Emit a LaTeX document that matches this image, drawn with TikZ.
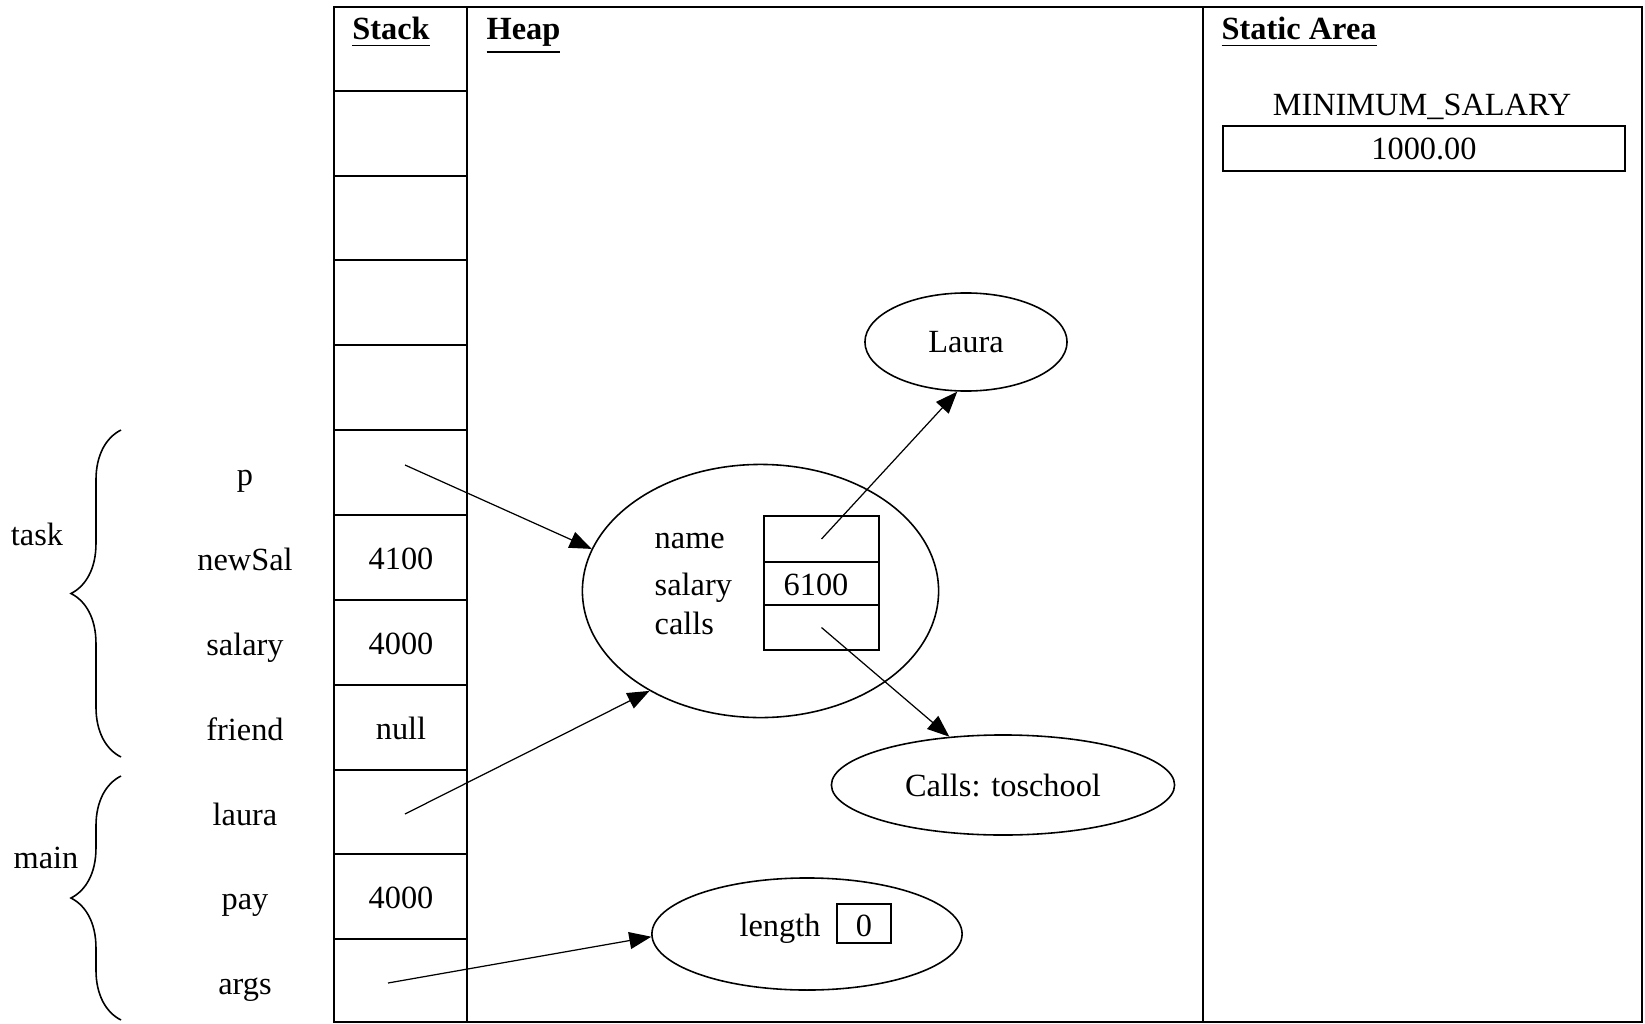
\documentclass[tikz,border=0pt]{standalone}
\usepackage{fontspec}
\setmainfont{Liberation Serif}
\usetikzlibrary{shapes.geometric,arrows.meta,decorations.pathreplacing}
\begin{document}
\begin{tikzpicture}[x=0.01cm,y=-0.01cm,
  font=\fontsize{9.2}{11}\selectfont,
  frame/.style={line width=0.6pt},
  oval/.style={draw, ellipse, line width=0.45pt, inner sep=0pt},
  box/.style={draw, rectangle, line width=0.45pt, inner sep=0pt},
  txt/.style={inner sep=0pt, anchor=base},
  ref/.style={line width=0.35pt, -{Triangle[length=0.22cm,width=0.17cm]}},
  brc/.style={decorate, decoration={brace, amplitude=0.5cm}, line width=0.45pt}]
\useasboundingbox (0,0) rectangle (1645,1024);
% frame
\draw[frame] (334,7) rectangle (1642,1022);
\draw[frame] (467,7) -- (467,1022);
\draw[frame] (1203,7) -- (1203,1022);
\foreach \yy in {91,176,260,345,430,515,600,685,770,854,939}
  \draw[frame] (334,\yy) -- (467,\yy);
% headers
\node[txt] (hstack) at (391,40) {\textbf{\underline{Stack}}};
\node[txt, anchor=base west] (hheap) at (486,40) {\textbf{\underline{Heap}}};
\node[txt, anchor=base west] (hstatic) at (1221,40) {\textbf{\underline{Static Area}}};
% static area
\node[txt] (minsal) at (1422,115) {MINIMUM\_SALARY};
\node[box, minimum width=4.02cm, minimum height=0.45cm] (minbox) at (1424,148.5) {};
\node[txt] (minval) at (1424,159) {1000.00};
% stack labels
\node[txt] (lp) at (245,485) {p};
\node[txt] (lnew) at (245,570) {newSal};
\node[txt] (lsal) at (245,655) {salary};
\node[txt] (lfri) at (245,740) {friend};
\node[txt] (llau) at (245,825) {laura};
\node[txt] (lpay) at (245,909) {pay};
\node[txt] (larg) at (245,994) {args};
% stack values
\node[txt] (vnew) at (401,569) {4100};
\node[txt] (vsal) at (401,654) {4000};
\node[txt] (vfri) at (401,739) {null};
\node[txt] (vpay) at (401,908) {4000};
% braces
\draw[brc] (121,757) -- (121,430);
\draw[brc] (121,1020) -- (121,776);
\node[txt] (ltask) at (37,545) {task};
\node[txt] (lmain) at (46,868) {main};
% heap objects
\node[oval, minimum width=2.02cm, minimum height=0.98cm] (laura) at (966,342) {Laura};
\node[oval, minimum width=3.56cm, minimum height=2.53cm] (obj) at (760.5,591) {};
\node[txt, anchor=base west] (fname) at (654,548) {name};
\node[txt, anchor=base west] (fsal) at (654,595) {salary};
\node[txt, anchor=base west] (fcall) at (654,634) {calls};
\node[box, minimum width=1.15cm, minimum height=0.46cm] (nameb) at (821.5,539) {};
\node[box, minimum width=1.15cm, minimum height=0.43cm] (salb) at (821.5,583.5) {};
\node[box, minimum width=1.15cm, minimum height=0.45cm] (callb) at (821.5,627.5) {};
\node[txt] (vsalary) at (816,595) {6100};
\node[oval, minimum width=3.43cm, minimum height=1.0cm] (calls) at (1003,785) {Calls: toschool};
\node[oval, minimum width=3.10cm, minimum height=1.12cm] (len) at (807,934) {};
\node[txt] (llen) at (780,936) {length};
\node[box, minimum width=0.54cm, minimum height=0.39cm] (lenb) at (864,923.5) {};
\node[txt] (vlen) at (864,936) {0};
% pointer starts
\coordinate (sp) at (405,465);
\coordinate (sl) at (405,814);
\coordinate (sa) at (388,983);
% connectors
\draw[ref] (sp) -- (obj.166);
\draw[ref] (sl) -- (obj.222);
\draw[ref] (sa) -- (len.181);
\draw[ref] (nameb.center) -- (laura.260);
\draw[ref] (callb.center) -- (calls.138);
\end{tikzpicture}
\end{document}
